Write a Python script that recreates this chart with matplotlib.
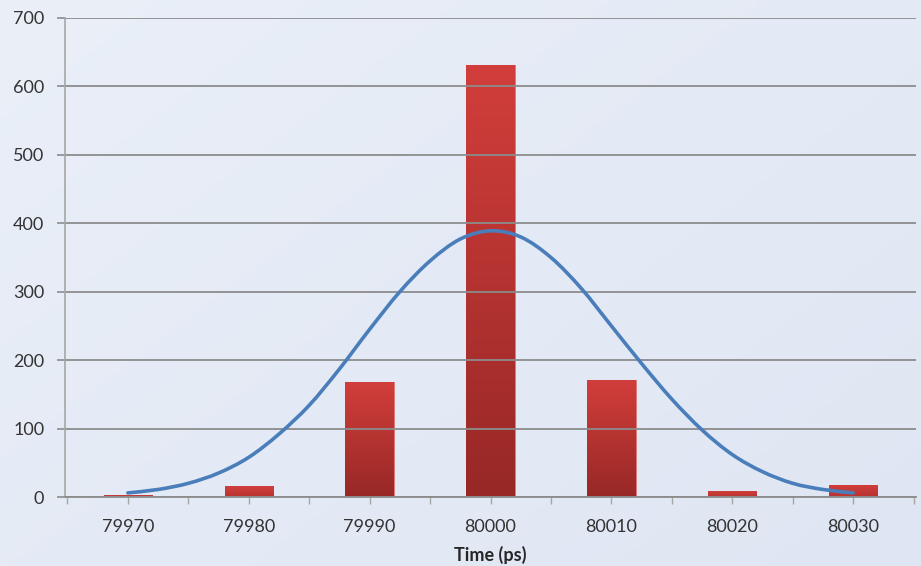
import numpy as np
import matplotlib
matplotlib.use('Agg')
import matplotlib.pyplot as plt
from matplotlib.colors import LinearSegmentedColormap
from matplotlib.path import Path
from matplotlib.patches import PathPatch

# histogram of measured edge times
categories = ['79970', '79980', '79990', '80000', '80010', '80020', '80030']
bin_centers = [79970, 79980, 79990, 80000, 80010, 80020, 80030]
counts = [3, 16, 168, 631, 171, 9, 18]

# fitted normal curve, sampled every 2.5 ps
fit_time = [79970, 79972.5, 79975, 79977.5, 79980, 79982.5, 79985, 79987.5,
            79990, 79992.5, 79995, 79997.5, 80000, 80002.5, 80005, 80007.5,
            80010, 80012.5, 80015, 80017.5, 80020, 80022.5, 80025, 80027.5,
            80030]
fit_count = [6, 11, 20, 35, 58, 92, 134, 187, 245, 300, 345, 377, 389,
             380, 350, 305, 250, 195, 143, 98, 62, 37, 20, 11, 6]

y_ticks = [0, 100, 200, 300, 400, 500, 600, 700]


def smooth_path(xs, ys):
    # Catmull-Rom through the samples, written as cubic Bezier segments
    pts = np.column_stack([xs, ys]).astype(float)
    padded = np.vstack([pts[0], pts, pts[-1]])
    verts = [pts[0]]
    codes = [Path.MOVETO]
    for i in range(1, len(padded) - 2):
        p0, p1, p2, p3 = padded[i - 1], padded[i], padded[i + 1], padded[i + 2]
        c1 = p1 + (p2 - p0) / 6.0
        c2 = p2 - (p3 - p1) / 6.0
        verts += [c1, c2, p2]
        codes += [Path.CURVE4] * 3
    return Path(verts, codes)


def main():
    fig = plt.figure(figsize=(9.21, 5.66), dpi=100)

    # soft blue background over the whole figure
    bg = fig.add_axes([0, 0, 1, 1], zorder=-10)
    gx, gy = np.meshgrid(np.linspace(0, 1, 200), np.linspace(0, 1, 200))
    g = 0.55 * gx + 0.45 * gy
    bg_cmap = LinearSegmentedColormap.from_list('bg', ['#eaeff8', '#dfe6f3'])
    bg.imshow(g, cmap=bg_cmap, aspect='auto', extent=[0, 1, 0, 1], origin='upper')
    bg.set_axis_off()

    ax = fig.add_axes([65 / 921, 69 / 566, 851 / 921, 479 / 566])
    ax.patch.set_alpha(0)

    x = np.arange(len(categories))
    bars = ax.bar(x, counts, width=0.4, color='#c63936', edgecolor='#e07a78',
                  linewidth=0.6, zorder=1)

    # per-bar vertical red gradient
    red_cmap = LinearSegmentedColormap.from_list('red', ['#972826', '#d23e3b'])
    small_cmap = LinearSegmentedColormap.from_list('red_s', ['#b83330', '#d23f3c'])
    grad = np.linspace(0, 1, 256).reshape(-1, 1)
    for b in bars:
        x0, w, h = b.get_x(), b.get_width(), b.get_height()
        if h > 50:
            # faint shadow on the right edge of the taller bars
            ax.bar(x0 + w / 2 + 0.01, h, width=w, color='#9aa3b5', alpha=0.3,
                   linewidth=0, zorder=0.9)
            cm = red_cmap
        else:
            cm = small_cmap
            b.set_edgecolor('#d04441')
        im = ax.imshow(grad, cmap=cm, aspect='auto', origin='lower',
                       extent=[x0, x0 + w, 0, h], zorder=1.1)
        im.set_clip_path(b)

    # normal fit on the same category scale
    fx = (np.array(fit_time) - bin_centers[0]) / (bin_centers[1] - bin_centers[0])
    curve = PathPatch(smooth_path(fx, fit_count), facecolor='none',
                      edgecolor='#4a7ebb', linewidth=2.6, capstyle='round',
                      zorder=3)
    ax.add_patch(curve)

    ax.set_xlim(-0.52, 6.52)
    ax.set_ylim(0, 700)
    ax.set_yticks(y_ticks)
    ax.set_xticks(x)
    ax.set_xticklabels(categories)
    ax.set_xticks(np.arange(-0.5, 6.6, 1.0), minor=True)

    ax.yaxis.grid(True, color='#8c8c8c', linewidth=1.3)
    for t in ax.yaxis.get_gridlines():
        t.set_zorder(2)

    for side in ['top', 'right']:
        ax.spines[side].set_visible(False)
    ax.spines['left'].set_color('#a6a6a6')
    ax.spines['bottom'].set_color('#8c8c8c')
    ax.spines['left'].set_linewidth(1.2)
    ax.spines['bottom'].set_linewidth(1.3)

    ax.tick_params(axis='y', length=6, width=1.2, color='#8c8c8c',
                   labelsize=13, labelcolor='#333333', pad=9)
    ax.tick_params(axis='x', which='both', length=5, width=1.0, color='#a6a6a6',
                   labelsize=13, labelcolor='#333333', pad=11)

    for lab in ax.get_xticklabels() + ax.get_yticklabels():
        lab.set_family('Lato')

    ax.set_xlabel('Time (ps)', fontsize=13, fontweight='bold',
                  family='Lato', color='#262626', labelpad=8)

    plt.savefig('out.png', dpi=100)


if __name__ == "__main__":
    main()
